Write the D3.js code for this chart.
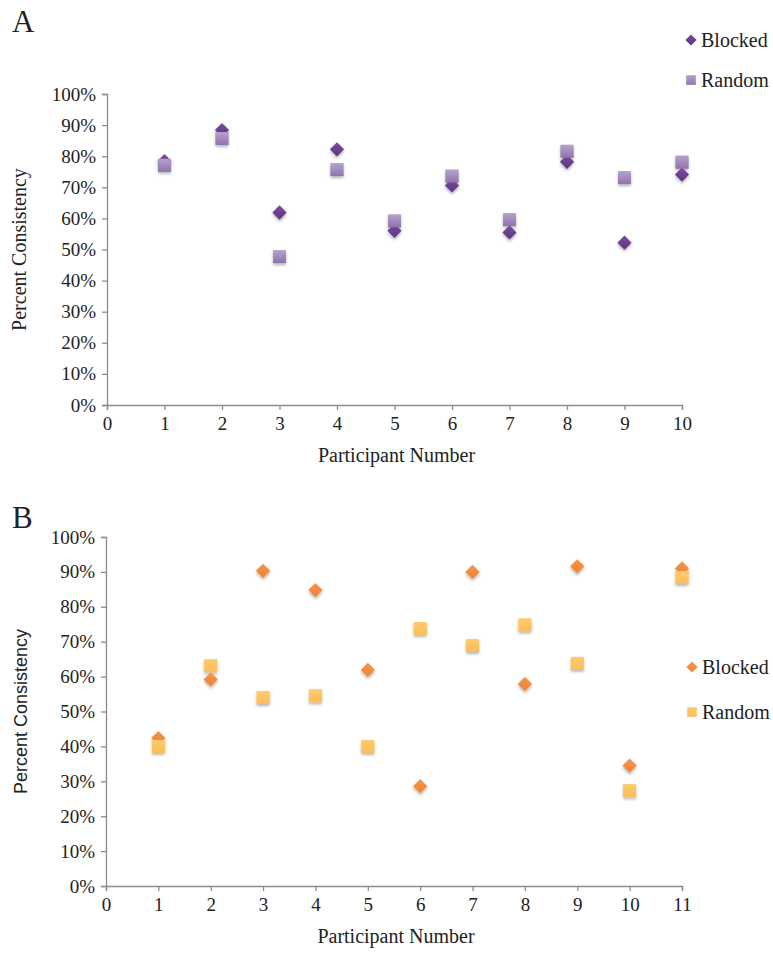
<!DOCTYPE html>
<html lang="en">
<head>
<meta charset="utf-8">
<title>Percent Consistency</title>
<script src="https://d3js.org/d3.v7.min.js"></script>
<style>
    body { margin: 0; background: #fff; }
    svg text { font-family: "Liberation Serif", "DejaVu Serif", serif; fill: #222; }
    .axis path, .axis line { stroke: #8c8c8c; stroke-width: 1.3px; }
</style>
</head>
<body>
<div id="chart"></div>
<script>
    // panel A
    var participantsA = [1, 2, 3, 4, 5, 6, 7, 8, 9, 10];
    var blockedA = [78.4, 88.4, 61.9, 82.2, 56.0, 70.6, 55.5, 78.2, 52.2, 74.1];
    var randomA  = [77.1, 85.7, 47.7, 75.7, 59.2, 73.6, 59.6, 81.6, 73.1, 78.1];

    // panel B
    var participantsB = [1, 2, 3, 4, 5, 6, 7, 8, 9, 10, 11];
    var blockedB = [42.4, 59.2, 90.3, 84.8, 61.9, 28.6, 90.0, 57.9, 91.6, 34.5, 91.0];
    var randomB  = [40.0, 63.1, 54.0, 54.5, 40.0, 73.8, 68.9, 74.8, 63.8, 27.3, 88.4];

    var yTicks = [0, 10, 20, 30, 40, 50, 60, 70, 80, 90, 100];
    var serif = "'Liberation Serif', 'DejaVu Serif', serif";
    var sans = "'Liberation Sans', Arial, sans-serif";

    var width = 773, height = 954;
    var svg = d3.select("#chart").append("svg")
        .attr("width", width).attr("height", height);

    var defs = svg.append("defs");
    defs.append("filter").attr("id", "shadow")
        .attr("x", "-50%").attr("y", "-50%").attr("width", "200%").attr("height", "200%")
      .append("feDropShadow")
        .attr("dx", 0).attr("dy", 2).attr("stdDeviation", 1.5)
        .attr("flood-color", "#000").attr("flood-opacity", 0.3);

    function grad(id, top, bottom) {
        var g = defs.append("linearGradient").attr("id", id)
            .attr("x1", 0).attr("y1", 0).attr("x2", 0).attr("y2", 1);
        g.append("stop").attr("offset", "0%").attr("stop-color", top);
        g.append("stop").attr("offset", "100%").attr("stop-color", bottom);
    }
    grad("sqA", "#b7a1cc", "#8f74ad");
    grad("dmA", "#7a4c9c", "#5e3483");
    grad("sqB", "#fecb6c", "#fcbe58");
    grad("dmB", "#f5964a", "#ee8236");

    var diamond = d3.symbol().type(d3.symbolDiamond2).size(130);
    var square = d3.symbol().type(d3.symbolSquare2).size(210);

    function panel(o) {
        var x = d3.scaleLinear().domain([0, o.xmax]).range([o.x0, o.x1]);
        var y = d3.scaleLinear().domain([0, 100]).range([o.y1, o.y0]);
        var g = svg.append("g");

        g.append("text")
            .attr("x", 12).attr("y", o.letterY)
            .style("font-family", serif)
            .attr("font-size", 31).text(o.letter);

        var ya = g.append("g").attr("class", "axis")
            .attr("transform", "translate(" + o.x0 + ",0)")
            .call(d3.axisLeft(y).tickValues(yTicks).tickSize(5).tickPadding(6)
                .tickFormat(function(d) { return d + "%"; }));

        var xa = g.append("g").attr("class", "axis")
            .attr("transform", "translate(0," + o.y1 + ")")
            .call(d3.axisBottom(x).ticks(o.xmax).tickSize(5).tickPadding(7)
                .tickSizeOuter(5));

        g.selectAll(".tick text")
            .style("font-family", serif).style("font-size", "19px").attr("fill", "#222");

        g.append("text")
            .attr("transform", "translate(" + o.yLabelX + "," + ((o.y0 + o.y1) / 2) + ") rotate(-90)")
            .attr("text-anchor", "middle")
            .style("font-family", o.yFont).style("font-size", o.yFontSize + "px")
            .text("Percent Consistency");

        g.append("text")
            .attr("x", (o.x0 + o.x1) / 2 + 2).attr("y", o.y1 + 57)
            .attr("text-anchor", "middle")
            .style("font-family", serif).style("font-size", "20px")
            .text("Participant Number");

        g.selectAll(".sq").data(o.ids).enter().append("path")
            .attr("d", square)
            .attr("transform", function(d, i) { return "translate(" + x(d) + "," + y(o.random[i]) + ")"; })
            .attr("fill", "url(#" + o.sq + ")")
            .attr("filter", "url(#shadow)");

        g.selectAll(".dm").data(o.ids).enter().append("path")
            .attr("d", diamond)
            .attr("transform", function(d, i) { return "translate(" + x(d) + "," + y(o.blocked[i]) + ")"; })
            .attr("fill", "url(#" + o.dm + ")")
            .attr("filter", "url(#shadow)");

        // squares sit on top where they overlap
        g.selectAll(".sq2").data(o.ids).enter().append("path")
            .attr("d", square)
            .attr("transform", function(d, i) { return "translate(" + x(d) + "," + y(o.random[i]) + ")"; })
            .attr("fill", "url(#" + o.sq + ")");

        var lg = g.append("g").attr("transform", "translate(" + o.lx + "," + o.ly + ")");
        lg.append("path").attr("d", d3.symbol().type(d3.symbolDiamond2).size(80))
            .attr("fill", "url(#" + o.dm + ")");
        lg.append("text").attr("x", 10).attr("y", 7)
            .style("font-family", serif).style("font-size", "20px").text("Blocked");
        lg.append("path").attr("d", d3.symbol().type(d3.symbolSquare2).size(120))
            .attr("transform", "translate(0," + o.lgap + ")")
            .attr("fill", "url(#" + o.sq + ")");
        lg.append("text").attr("x", 10).attr("y", o.lgap + 7)
            .style("font-family", serif).style("font-size", "20px").text("Random");
    }

    panel({letter: "A", ids: participantsA, blocked: blockedA, random: randomA,
        xmax: 10, x0: 107, x1: 682, y0: 94, y1: 405, letterY: 32,
        sq: "sqA", dm: "dmA", lx: 691, ly: 40, lgap: 40,
        yLabelX: 26, yFont: serif, yFontSize: 20});

    panel({letter: "B", ids: participantsB, blocked: blockedB, random: randomB,
        xmax: 11, x0: 106, x1: 682, y0: 537, y1: 886, letterY: 528,
        sq: "sqB", dm: "dmB", lx: 692, ly: 667, lgap: 45,
        yLabelX: 27, yFont: sans, yFontSize: 18});
</script>
</body>
</html>
